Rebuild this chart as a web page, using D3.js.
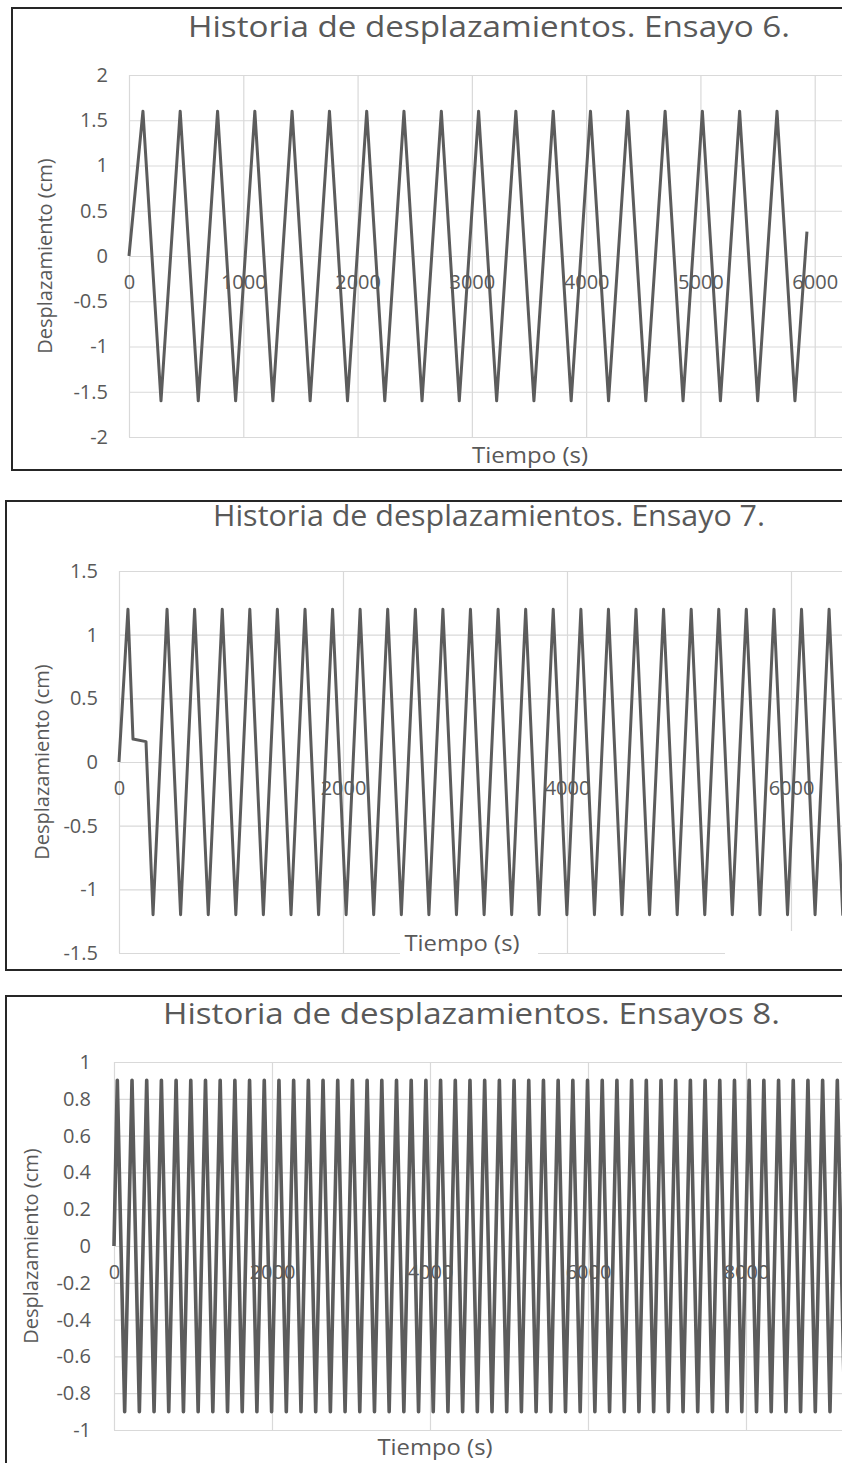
<!DOCTYPE html>
<html>
<head>
<meta charset="utf-8">
<script src="https://cdn.jsdelivr.net/npm/d3@7"></script>
<style>
  body { margin: 0; background: #fff; }
  svg { display: block; }
  text { font-family: "Open Sans", "Noto Sans", sans-serif; fill: #595959; }
</style>
</head>
<body>
<svg id="chart" width="842" height="1463"></svg>
<script>
// ---------- Ensayo 6 ----------
const titulo6 = "Historia de desplazamientos. Ensayo 6.";
const ensayo6Tiempo = [0, 122, 280, 448, 606, 775, 933, 1101, 1259, 1427, 1585, 1754, 1912, 2080, 2238,
  2406, 2564, 2733, 2890, 3059, 3217, 3385, 3543, 3712, 3869, 4038, 4196, 4364, 4522, 4691, 4848,
  5017, 5175, 5343, 5501, 5670, 5827, 5932];
const ensayo6Desp = [0, 1.6, -1.6, 1.6, -1.6, 1.6, -1.6, 1.6, -1.6, 1.6, -1.6, 1.6, -1.6, 1.6, -1.6,
  1.6, -1.6, 1.6, -1.6, 1.6, -1.6, 1.6, -1.6, 1.6, -1.6, 1.6, -1.6, 1.6, -1.6, 1.6, -1.6,
  1.6, -1.6, 1.6, -1.6, 1.6, -1.6, 0.27];
const ensayo6XTicks = [0, 1000, 2000, 3000, 4000, 5000, 6000];
const ensayo6YTicks = [-2, -1.5, -1, -0.5, 0, 0.5, 1, 1.5, 2];

// ---------- Ensayo 7 ----------
const titulo7 = "Historia de desplazamientos. Ensayo 7.";
const ensayo7Tiempo = [0, 80, 125, 241, 304, 429, 550, 675, 797, 922, 1043, 1168, 1289, 1414, 1536,
  1661, 1782, 1907, 2028, 2153, 2274, 2399, 2521, 2646, 2767, 2892, 3013, 3138, 3260, 3385, 3506,
  3631, 3752, 3877, 3999, 4124, 4245, 4370, 4491, 4616, 4737, 4862, 4984, 5109, 5230, 5355, 5476,
  5601, 5723, 5848, 5969, 6094, 6215, 6340, 6462, 6587];
const ensayo7Desp = [0, 1.2, 0.18, 0.16, -1.2, 1.2, -1.2, 1.2, -1.2, 1.2, -1.2, 1.2, -1.2, 1.2, -1.2,
  1.2, -1.2, 1.2, -1.2, 1.2, -1.2, 1.2, -1.2, 1.2, -1.2, 1.2, -1.2, 1.2, -1.2, 1.2, -1.2,
  1.2, -1.2, 1.2, -1.2, 1.2, -1.2, 1.2, -1.2, 1.2, -1.2, 1.2, -1.2, 1.2, -1.2, 1.2, -1.2,
  1.2, -1.2, 1.2, -1.2, 1.2, -1.2, 1.2, -1.2, 1.2];
const ensayo7XTicks = [0, 2000, 4000, 6000];
const ensayo7YTicks = [-1.5, -1, -0.5, 0, 0.5, 1, 1.5];

// ---------- Ensayo 8 ----------
const titulo8 = "Historia de desplazamientos. Ensayos 8.";
const ensayo8Tiempo = [0, 42, 135, 228, 321, 414, 507, 600, 693, 786, 879, 972, 1065, 1158, 1251,
  1344, 1437, 1530, 1623, 1716, 1809, 1902, 1995, 2088, 2181, 2274, 2367, 2460, 2553, 2646, 2739,
  2832, 2925, 3018, 3111, 3204, 3297, 3390, 3483, 3576, 3669, 3762, 3855, 3948, 4041, 4134, 4227,
  4320, 4413, 4506, 4599, 4692, 4785, 4878, 4971, 5064, 5157, 5250, 5343, 5436, 5529, 5622, 5715,
  5808, 5901, 5994, 6087, 6180, 6273, 6366, 6459, 6552, 6645, 6738, 6831, 6924, 7017, 7110, 7203,
  7296, 7389, 7482, 7575, 7668, 7761, 7854, 7947, 8040, 8133, 8226, 8319, 8412, 8505, 8598, 8691,
  8784, 8877, 8970, 9063, 9156, 9249];
const ensayo8Desp = [0, 0.9, -0.9, 0.9, -0.9, 0.9, -0.9, 0.9, -0.9, 0.9, -0.9, 0.9, -0.9, 0.9, -0.9,
  0.9, -0.9, 0.9, -0.9, 0.9, -0.9, 0.9, -0.9, 0.9, -0.9, 0.9, -0.9, 0.9, -0.9, 0.9, -0.9,
  0.9, -0.9, 0.9, -0.9, 0.9, -0.9, 0.9, -0.9, 0.9, -0.9, 0.9, -0.9, 0.9, -0.9, 0.9, -0.9,
  0.9, -0.9, 0.9, -0.9, 0.9, -0.9, 0.9, -0.9, 0.9, -0.9, 0.9, -0.9, 0.9, -0.9, 0.9, -0.9,
  0.9, -0.9, 0.9, -0.9, 0.9, -0.9, 0.9, -0.9, 0.9, -0.9, 0.9, -0.9, 0.9, -0.9, 0.9, -0.9,
  0.9, -0.9, 0.9, -0.9, 0.9, -0.9, 0.9, -0.9, 0.9, -0.9, 0.9, -0.9, 0.9, -0.9, 0.9, -0.9,
  0.9, -0.9, 0.9, -0.9, 0.9, -0.9];
const ensayo8XTicks = [0, 2000, 4000, 6000, 8000];
const ensayo8YTicks = [-1, -0.8, -0.6, -0.4, -0.2, 0, 0.2, 0.4, 0.6, 0.8, 1];

const tituloX = "Tiempo (s)";
const tituloY = "Desplazamiento (cm)";

// ---------- Panel layout ----------
const panels = [
  {
    titulo: titulo6, tiempo: ensayo6Tiempo, desp: ensayo6Desp, xTicks: ensayo6XTicks, yTicks: ensayo6YTicks,
    frame: { x: 12, y: 8, h: 462 },
    xDomain: [0, 7000], xRange: [129, 929],
    yDomain: [-2, 2], yRange: [437, 75],
    title: { x: 188, y: 37, size: 29, len: 602 },
    yTitle: { x: 45 },
    xTitle: { x: 530, y: 463, len: 116 },
    yPad: 21, lineWidth: 3
  },
  {
    titulo: titulo7, tiempo: ensayo7Tiempo, desp: ensayo7Desp, xTicks: ensayo7XTicks, yTicks: ensayo7YTicks,
    frame: { x: 6, y: 501, h: 469 },
    xDomain: [0, 8000], xRange: [119, 1015],
    yDomain: [-1.5, 1.5], yRange: [953, 571],
    title: { x: 213, y: 526, size: 29, len: 552 },
    yTitle: { x: 42 },
    xTitle: { x: 462, y: 951, len: 115 },
    yPad: 21, lineWidth: 3,
    masks: [ { x: 400, y: 935, w: 138, h: 24 }, { x: 725, y: 931, w: 130, h: 30 } ]
  },
  {
    titulo: titulo8, tiempo: ensayo8Tiempo, desp: ensayo8Desp, xTicks: ensayo8XTicks, yTicks: ensayo8YTicks,
    frame: { x: 6, y: 996, h: 520 },
    xDomain: [0, 10000], xRange: [114, 904],
    yDomain: [-1, 1], yRange: [1430, 1062],
    title: { x: 163, y: 1024, size: 30, len: 617 },
    yTitle: { x: 31 },
    xTitle: { x: 435, y: 1455, len: 115 },
    yPad: 23, lineWidth: 3.6
  }
];

const svg = d3.select("#chart");
const fmt = d => String(+d.toFixed(1));

panels.forEach(p => {
  const g = svg.append("g");
  const x = d3.scaleLinear().domain(p.xDomain).range(p.xRange);
  const y = d3.scaleLinear().domain(p.yDomain).range(p.yRange);
  const left = p.xRange[0], right = p.xRange[1];
  const top = p.yRange[1], bottom = p.yRange[0];

  // frame around the chart
  g.append("rect")
    .attr("x", p.frame.x).attr("y", p.frame.y)
    .attr("width", 1000).attr("height", p.frame.h)
    .attr("fill", "#fff").attr("stroke", "#262626").attr("stroke-width", 2);

  // horizontal gridlines
  g.append("g")
    .attr("transform", `translate(${left},0)`)
    .call(d3.axisLeft(y).tickValues(p.yTicks).tickSize(-(right - left)).tickFormat(""))
    .call(a => a.select(".domain").remove())
    .call(a => a.selectAll("line").attr("stroke", "#d9d9d9").attr("stroke-width", 1.2));

  // vertical gridlines (one past the last labelled tick, at the domain end)
  const xGrid = p.xTicks.concat([p.xDomain[1]]);
  g.append("g")
    .attr("transform", `translate(0,${bottom})`)
    .call(d3.axisBottom(x).tickValues(xGrid).tickSize(-(bottom - top)).tickFormat(""))
    .call(a => a.select(".domain").remove())
    .call(a => a.selectAll("line").attr("stroke", "#d9d9d9").attr("stroke-width", 1.2));

  // areas where the bottom axis is interrupted
  (p.masks || []).forEach(m => {
    g.append("rect").attr("x", m.x).attr("y", m.y).attr("width", m.w).attr("height", m.h).attr("fill", "#fff");
  });

  // y tick labels
  g.append("g")
    .attr("transform", `translate(${left},0)`)
    .call(d3.axisLeft(y).tickValues(p.yTicks).tickSize(0).tickPadding(p.yPad).tickFormat(fmt))
    .call(a => a.select(".domain").remove())
    .call(a => a.selectAll("text").attr("font-size", 20).attr("fill", "#595959")
      .style("font-family", '"Open Sans", sans-serif'));

  // displacement history
  const serie = p.tiempo.map((t, i) => [t, p.desp[i]]);
  g.append("path")
    .datum(serie)
    .attr("fill", "none")
    .attr("stroke", "#5c5c5c")
    .attr("stroke-width", p.lineWidth)
    .attr("stroke-linejoin", "round")
    .attr("d", d3.line().x(d => x(d[0])).y(d => y(d[1])));

  // x tick labels sit on the zero line
  g.append("g")
    .attr("transform", `translate(0,${y(0)})`)
    .call(d3.axisBottom(x).tickValues(p.xTicks).tickSize(0).tickPadding(19).tickFormat(d3.format("d")))
    .call(a => a.select(".domain").remove())
    .call(a => a.selectAll("text").attr("font-size", 20).attr("fill", "#595959")
      .style("font-family", '"Open Sans", sans-serif'));

  // chart title
  g.append("text")
    .attr("x", p.title.x).attr("y", p.title.y)
    .attr("font-size", p.title.size)
    .attr("textLength", p.title.len).attr("lengthAdjust", "spacingAndGlyphs")
    .text(p.titulo);

  // axis titles
  g.append("text")
    .attr("transform", `translate(${p.yTitle.x},${(top + bottom) / 2}) rotate(-90)`)
    .attr("text-anchor", "middle").attr("dy", "0.35em")
    .attr("font-size", 20)
    .text(tituloY);

  g.append("text")
    .attr("x", p.xTitle.x).attr("y", p.xTitle.y)
    .attr("text-anchor", "middle")
    .attr("font-size", 21)
    .attr("textLength", p.xTitle.len).attr("lengthAdjust", "spacingAndGlyphs")
    .text(tituloX);
});
</script>
</body>
</html>
